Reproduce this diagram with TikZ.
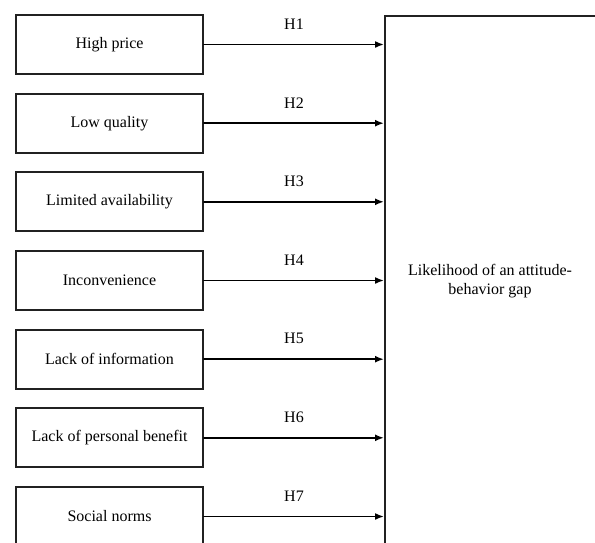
\documentclass[tikz,border=0pt]{standalone}
\usepackage{fontspec}
\setmainfont{Liberation Serif}
\usetikzlibrary{arrows.meta, positioning}
\definecolor{lineGray}{rgb}{0.13, 0.13, 0.13}
\tikzset{
	factor/.style={draw=lineGray, line width=2pt, minimum width=187pt, minimum height=59pt, inner sep=0pt, font=\fontsize{16}{19}\selectfont},
	link/.style={draw=black, line width=1.7pt, -{Latex[length=9pt, width=7pt]}},
	hyp/.style={above=11pt, font=\fontsize{16}{19}\selectfont}
}

\begin{document}
\begin{tikzpicture}[x=1pt, y=-1pt, line cap = round]
	\useasboundingbox (0,0) rectangle (595,542);
	\clip (0,0) rectangle (595,542);

	% outcome box, runs past the page
	\node[draw=lineGray, line width=2pt, anchor=north west, minimum width=300pt, minimum height=600pt] (gap) at (384,15) {};
	\node[align=center, font=\fontsize{16}{19}\selectfont] (gaplabel) at (490,281) {Likelihood of an attitude-\\behavior gap};

	% barriers
	\node[factor] (price) at (109.5,44.5) {High price};
	\node[factor] (quality) at (109.5,123.2) {Low quality};
	\node[factor] (avail) at (109.5,201.8) {Limited availability};
	\node[factor] (inconv) at (109.5,280.5) {Inconvenience};
	\node[factor] (info) at (109.5,359.2) {Lack of information};
	\node[factor] (benefit) at (109.5,437.8) {Lack of personal benefit};
	\node[factor] (norms) at (109.5,516.5) {Social norms};

	% hypotheses
	\draw[link] (price.east) -- node[hyp] {H1} (gap.west |- price.east);
	\draw[link] (quality.east) -- node[hyp] {H2} (gap.west |- quality.east);
	\draw[link] (avail.east) -- node[hyp] {H3} (gap.west |- avail.east);
	\draw[link] (inconv.east) -- node[hyp] {H4} (gap.west |- inconv.east);
	\draw[link] (info.east) -- node[hyp] {H5} (gap.west |- info.east);
	\draw[link] (benefit.east) -- node[hyp] {H6} (gap.west |- benefit.east);
	\draw[link] (norms.east) -- node[hyp] {H7} (gap.west |- norms.east);

\end{tikzpicture}
\end{document}
